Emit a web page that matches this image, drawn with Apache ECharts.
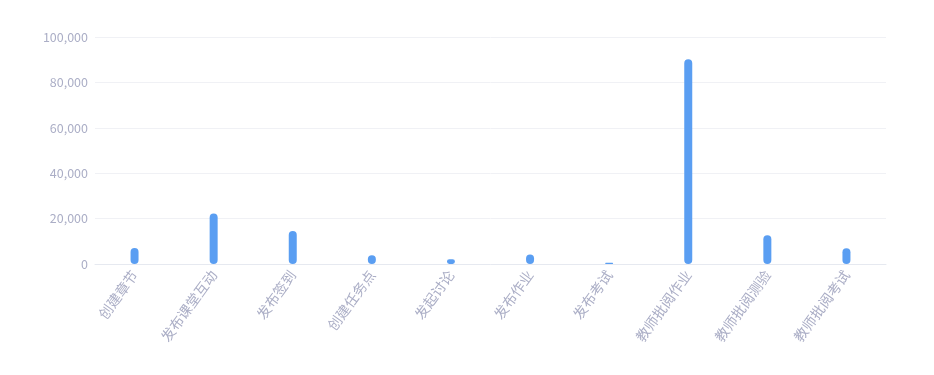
<!DOCTYPE html>
<html>
<head>
<meta charset="utf-8">
<script src="https://cdn.jsdelivr.net/npm/echarts@6/dist/echarts.min.js"></script>
<style>html,body{margin:0;padding:0;background:#fff;}#c{width:934px;height:375px;}</style>
</head>
<body>
<div id="c"></div>
<script>
var categories = ['创建章节','发布课堂互动','发布签到','创建任务点','发起讨论','发布作业','发布考试','教师批阅作业','教师批阅测验','教师批阅考试'];
var values = [7100, 22300, 14500, 3900, 2100, 4200, 600, 90200, 12700, 6900];
var yTicks = {min: 0, max: 100000, interval: 20000};

var chart = echarts.init(document.getElementById('c'));
chart.setOption({
  animation: false,
  grid: {left: 95, right: 48, top: 37, bottom: 111},
  xAxis: {
    type: 'category',
    data: categories,
    axisLine: {lineStyle: {color: '#e6e9f0'}},
    axisTick: {show: false},
    axisLabel: {rotate: 54, color: '#abaec6', fontSize: 14, fontFamily: 'Noto Sans CJK SC', interval: 0, margin: 8}
  },
  yAxis: {
    type: 'value',
    min: yTicks.min, max: yTicks.max, interval: yTicks.interval,
    axisLine: {show: false},
    axisTick: {show: false},
    splitLine: {lineStyle: {color: '#f0f1f5'}},
    axisLabel: {color: '#abaec6', fontSize: 12.5, fontFamily: 'Noto Sans CJK SC', margin: 7,
      formatter: function(v){ return v.toLocaleString('en-US'); }}
  },
  series: [{
    type: 'bar',
    data: values,
    barWidth: 8,
    itemStyle: {color: '#5a9ef2', borderRadius: 4}
  }]
});
</script>
</body>
</html>
